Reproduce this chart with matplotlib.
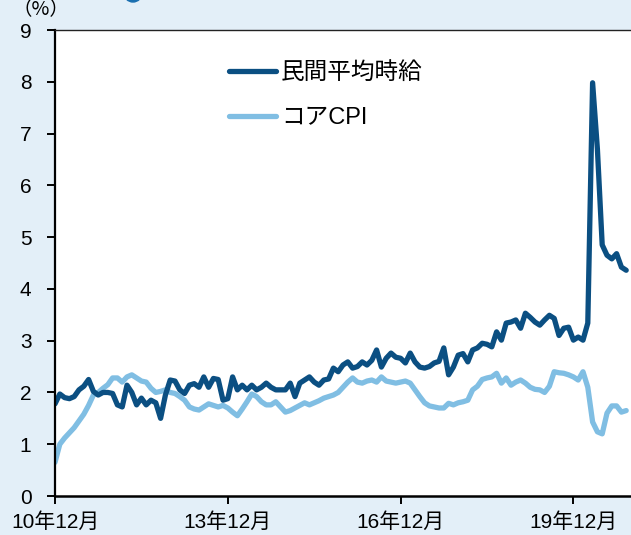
import matplotlib
matplotlib.use("Agg")
import matplotlib.pyplot as plt
from matplotlib.patches import Ellipse

plt.rcParams['font.family'] = ['Liberation Sans', 'Noto Sans CJK JP', 'DejaVu Sans']

# ---- data (monthly, Dec 2010 - Nov 2020, YoY %) ----
wage_label = "民間平均時給"
cpi_label = "コアCPI"

wages = [1.78, 1.97, 1.90, 1.88, 1.92, 2.05, 2.12, 2.25, 2.02, 1.95,
         2.00, 2.00, 1.98, 1.76, 1.72, 2.14, 2.00, 1.76, 1.89, 1.76,
         1.85, 1.80, 1.50, 1.95, 2.24, 2.22, 2.05, 1.98, 2.14, 2.17,
         2.10, 2.30, 2.10, 2.27, 2.25, 1.85, 1.88, 2.30, 2.05, 2.14,
         2.05, 2.14, 2.05, 2.10, 2.18, 2.10, 2.05, 2.05, 2.05, 2.18,
         1.92, 2.18, 2.24, 2.30, 2.20, 2.14, 2.24, 2.26, 2.47, 2.40,
         2.53, 2.59, 2.47, 2.50, 2.59, 2.53, 2.62, 2.82, 2.49, 2.66,
         2.76, 2.68, 2.66, 2.57, 2.76, 2.59, 2.49, 2.47, 2.50, 2.57,
         2.60, 2.86, 2.34, 2.49, 2.72, 2.75, 2.59, 2.82, 2.86, 2.95,
         2.93, 2.88, 3.17, 3.01, 3.34, 3.36, 3.40, 3.24, 3.53, 3.45,
         3.36, 3.30, 3.40, 3.49, 3.43, 3.10, 3.24, 3.26, 3.01, 3.07,
         3.01, 3.34, 7.98, 6.70, 4.85, 4.65, 4.58, 4.68, 4.42, 4.36]

core_cpi = [0.65, 1.00, 1.12, 1.22, 1.32, 1.45, 1.58, 1.75, 1.95, 2.00,
            2.08, 2.15, 2.28, 2.28, 2.20, 2.30, 2.34, 2.28, 2.22, 2.20,
            2.08, 2.00, 2.02, 2.05, 2.00, 1.98, 1.92, 1.85, 1.72, 1.68,
            1.66, 1.72, 1.78, 1.75, 1.72, 1.75, 1.70, 1.62, 1.55, 1.68,
            1.82, 1.97, 1.92, 1.82, 1.76, 1.76, 1.82, 1.72, 1.62, 1.65,
            1.70, 1.75, 1.80, 1.76, 1.80, 1.84, 1.89, 1.92, 1.95, 2.00,
            2.10, 2.20, 2.28, 2.20, 2.18, 2.22, 2.24, 2.20, 2.30, 2.22,
            2.20, 2.18, 2.20, 2.22, 2.18, 2.05, 1.92, 1.80, 1.74, 1.72,
            1.70, 1.70, 1.79, 1.76, 1.80, 1.82, 1.85, 2.05, 2.12, 2.25,
            2.28, 2.30, 2.37, 2.18, 2.28, 2.14, 2.20, 2.24, 2.18, 2.10,
            2.06, 2.05, 2.00, 2.12, 2.40, 2.38, 2.37, 2.34, 2.30, 2.24,
            2.40, 2.10, 1.43, 1.24, 1.20, 1.60, 1.74, 1.74, 1.62, 1.65]

x_tick_pos = [0, 36, 72, 108]
x_tick_labels = ["10年12月", "13年12月", "16年12月", "19年12月"]
y_ticks = list(range(0, 10))

months = list(range(len(wages)))

# ---- styling ----
bg = '#e3eff8'
dark = '#0b4f82'
light = '#80bee3'

W, H = 631, 535
fig = plt.figure(figsize=(W / 100, H / 100), dpi=100, facecolor=bg)
ax = fig.add_axes([55 / W, (H - 496) / H, (W - 55) / W, (496 - 30) / H])
ax.set_facecolor('white')

ax.plot(months, wages, color=dark, lw=3.8, solid_capstyle='round',
        solid_joinstyle='round', label=wage_label, zorder=3)
ax.plot(months, core_cpi, color=light, lw=3.8, solid_capstyle='round',
        solid_joinstyle='round', label=cpi_label, zorder=2)

ax.set_xlim(0, 120)
ax.set_ylim(0, 9)
ax.set_yticks(y_ticks)
ax.set_xticks(x_tick_pos)
ax.set_xticklabels(x_tick_labels)

ax.spines['right'].set_visible(False)
ax.spines['left'].set_linewidth(1.6)
ax.spines['bottom'].set_linewidth(1.8)
ax.spines['top'].set_linewidth(1.0)
ax.spines['top'].set_color('#222222')
for s in ['top', 'left', 'bottom']:
    ax.spines[s].set_zorder(6)

ax.tick_params(axis='y', direction='out', length=6, width=1.4, pad=11,
               labelsize=15, colors='black')
ax.tick_params(axis='x', direction='out', length=6, width=1.4, pad=6,
               labelsize=15, colors='black')

leg = ax.legend(loc='upper left', bbox_to_anchor=(229 / W, (H - 62) / H),
                bbox_transform=fig.transFigure, frameon=False,
                fontsize=17, handlelength=2.0, handletextpad=0.2,
                labelspacing=1.0, borderpad=0, borderaxespad=0)
for line in leg.get_lines():
    line.set_linewidth(3.8)

fig.text(12 / W, (H - 10) / H, "（%）", fontsize=14, ha='left', va='center',
         family=['Noto Sans CJK JP', 'DejaVu Sans'])
fig.patches.append(Ellipse((133 / W, (H + 7) / H), 18 / W, 18 / H,
                           transform=fig.transFigure, color='#1a6fb0'))

fig.savefig('out.png', dpi=100, facecolor=bg)
